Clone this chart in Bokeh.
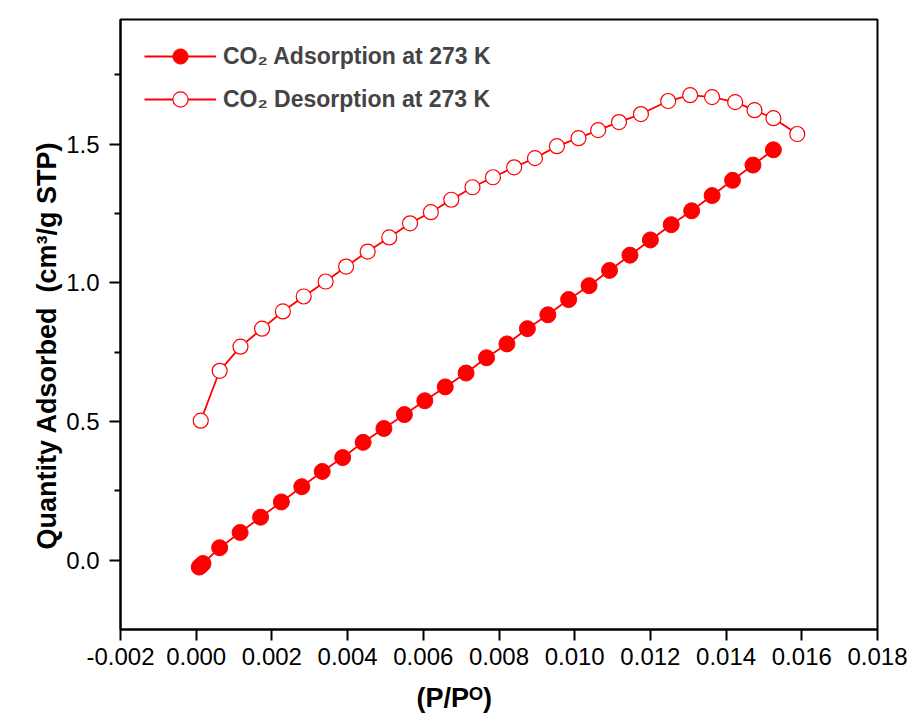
import math
from bokeh.plotting import figure
from bokeh.models import FixedTicker, NumeralTickFormatter, Legend, LegendItem, Title, Range1d
from bokeh.embed import file_html
from bokeh.resources import INLINE

# Adsorption branch
ads_x = [0.00008, 0.00012, 0.00018, 0.00062, 0.00116, 0.0017, 0.00225, 0.00279, 0.00333,
         0.00387, 0.00441, 0.00496, 0.0055, 0.00604, 0.00658, 0.00713, 0.00767, 0.00821,
         0.00875, 0.00929, 0.00984, 0.01038, 0.01092, 0.01146, 0.012, 0.01255, 0.01309,
         0.01363, 0.01417, 0.01471, 0.01525]
ads_y = [-0.025, -0.02, -0.012, 0.045, 0.10, 0.155, 0.21, 0.265, 0.32,
         0.37, 0.425, 0.475, 0.525, 0.575, 0.625, 0.675, 0.73, 0.78,
         0.835, 0.885, 0.94, 0.99, 1.045, 1.10, 1.155, 1.21, 1.26,
         1.315, 1.37, 1.425, 1.48]

# Desorption branch
des_x = [0.01588, 0.01525, 0.01475, 0.01424, 0.01363, 0.01305, 0.01247, 0.01175, 0.01117,
         0.01062, 0.0101, 0.00953, 0.00895, 0.0084, 0.00784, 0.0073, 0.00674, 0.0062,
         0.00565, 0.0051, 0.00453, 0.00396, 0.00342, 0.00284, 0.00229, 0.00174, 0.00117,
         0.00062, 0.00012]
des_y = [1.537, 1.594, 1.623, 1.652, 1.670, 1.677, 1.656, 1.609, 1.58,
         1.551, 1.522, 1.493, 1.45, 1.417, 1.381, 1.345, 1.30, 1.255,
         1.215, 1.164, 1.113, 1.059, 1.005, 0.951, 0.897, 0.835, 0.77,
         0.683, 0.503]

x_ticks = [-0.002, 0.0, 0.002, 0.004, 0.006, 0.008, 0.010, 0.012, 0.014, 0.016, 0.018]
y_ticks = [0.0, 0.5, 1.0, 1.5]
y_minor = [0.25, 0.75, 1.25, 1.75]

x_title = "(P/Pᴼ)"
y_title = "Quantity Adsorbed \u00a0(cm³/g STP)"

RED = "#FF0000"
FONT = "Liberation Sans"

p = figure(width=913, height=726, output_backend="svg", toolbar_location=None,
           x_range=Range1d(-0.002, 0.018), y_range=Range1d(-0.25, 1.95),
           min_border_left=120, min_border_right=36, min_border_top=19, min_border_bottom=97)
p.background_fill_color = "white"
p.border_fill_color = "white"
p.grid.visible = False
p.outline_line_color = "black"
p.outline_line_width = 2
p.outline_line_alpha = 1.0

l1 = p.line(ads_x, ads_y, line_color=RED, line_width=1.8)
s1 = p.scatter(ads_x, ads_y, size=16, marker="circle", fill_color=RED, line_color=RED)
l2 = p.line(des_x, des_y, line_color=RED, line_width=1.8)
s2 = p.scatter(des_x, des_y, size=15, marker="circle", fill_color="white", line_color=RED, line_width=1.2)

for ax in (p.xaxis[0], p.yaxis[0]):
    ax.axis_line_width = 2
    ax.axis_line_color = "black"
    ax.major_tick_line_width = 2
    ax.minor_tick_line_width = 2
    ax.major_tick_in = 0
    ax.minor_tick_in = 0
    ax.major_tick_out = 11
    ax.minor_tick_out = 6
    ax.major_label_text_font = FONT
    ax.major_label_text_font_size = "24px"
    ax.major_label_text_color = "black"
    ax.major_label_standoff = 7
p.yaxis.major_label_standoff = 10

p.xaxis.ticker = FixedTicker(ticks=x_ticks, minor_ticks=[])
p.xaxis.formatter = NumeralTickFormatter(format="0.000")
p.yaxis.ticker = FixedTicker(ticks=y_ticks, minor_ticks=y_minor)
p.yaxis.formatter = NumeralTickFormatter(format="0.0")

# axis titles
p.add_layout(Title(text=x_title, align="left", offset=296, standoff=26,
                   text_font=FONT, text_font_style="bold", text_font_size="27px",
                   text_color="black"), "below")
p.add_layout(Title(text=y_title, align="left", offset=80, standoff=3,
                   text_font=FONT, text_font_style="bold", text_font_size="27px",
                   text_color="black"), "left")

legend = Legend(items=[
    LegendItem(label="CO₂ Adsorption at 273 K", renderers=[l1, s1]),
    LegendItem(label="CO₂ Desorption at 273 K", renderers=[l2, s2]),
], location=(24, 511), margin=0, padding=0, spacing=5,
    glyph_width=72, glyph_height=38, label_height=38, label_standoff=7,
    label_text_font=FONT, label_text_font_style="bold", label_text_font_size="23px",
    border_line_color=None, background_fill_alpha=0)
p.add_layout(legend)

open("out.html", "w").write(file_html(p, INLINE))
